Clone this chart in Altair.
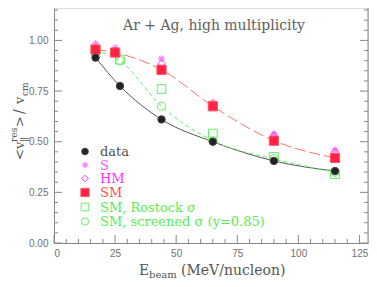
import altair as alt
import pandas as pd

# ---- data ----
E_data = [17, 27, 44, 65, 90, 115]
v_data = [0.915, 0.775, 0.61, 0.50, 0.405, 0.355]
E_S = [17, 25, 44, 65, 90, 115]
v_S = [0.985, 0.965, 0.91, 0.695, 0.54, 0.46]
E_HM = [17, 25, 44, 65, 90, 115]
v_HM = [0.96, 0.945, 0.885, 0.685, 0.53, 0.45]
E_SM = [17, 25, 44, 65, 90, 115]
v_SM = [0.955, 0.94, 0.855, 0.675, 0.505, 0.42]
E_ros = [17, 27, 44, 65, 90, 115]
v_ros = [0.945, 0.905, 0.76, 0.54, 0.425, 0.34]
E_scr = [17, 27, 44, 65, 90, 115]
v_scr = [0.95, 0.90, 0.675, 0.505, 0.415, 0.35]

x_major = [0, 25, 50, 75, 100, 125]
x_minor = [v for v in range(0, 130, 5) if v % 25 != 0]
y_major = [0.0, 0.25, 0.5, 0.75, 1.0]
y_minor = [round(i * 0.05, 2) for i in range(24) if i % 5 != 0]

legend_labels = ["data", "S", "HM", "SM", "SM, Rostock σ", "SM, screened σ (y=0.85)"]
title_text = "Ar + Ag, high multiplicity"

W, H = 314, 235
GRAY = "#888888"
SERIF = "DejaVu Serif"
SANS = "Liberation Sans"

xs = alt.Scale(domain=[0, 128.5], nice=False, zero=False)
ys = alt.Scale(domain=[0, 1.16], nice=False)
x_axis = alt.Axis(values=x_major, format="d", tickSize=0, domainColor=GRAY, labelColor="#707070",
                  labelFont=SANS, labelFontSize=10, labelPadding=5, title=None, grid=False)
y_axis = alt.Axis(values=y_major, format=".2f", tickSize=0, domainColor=GRAY, labelColor="#707070",
                  labelFont=SANS, labelFontSize=10, labelPadding=6, title=None, grid=False)
X = alt.X("E:Q", scale=xs, axis=x_axis)
Y = alt.Y("v:Q", scale=ys, axis=y_axis)


def df(E, v):
    return pd.DataFrame({"E": E, "v": v})


layers = []
# curves
layers.append(alt.Chart(df(E_data, v_data)).mark_line(color="#555555", strokeWidth=1, interpolate="monotone").encode(x=X, y=Y))
layers.append(alt.Chart(df(E_SM, v_SM)).mark_line(color="#ff7070", strokeWidth=1, strokeDash=[11, 4], interpolate="monotone").encode(x=X, y=Y))
layers.append(alt.Chart(df(E_scr, v_scr)).mark_line(color="#66ee66", strokeWidth=1, strokeDash=[4, 3], interpolate="monotone").encode(x=X, y=Y))

ASTER = "M-1,0L1,0M0,-1L0,1M-0.7,-0.7L0.7,0.7M-0.7,0.7L0.7,-0.7"
styles = {
    "data": dict(shape="circle", filled=True, fill="#222222", stroke="#444444", strokeWidth=1, size=55, opacity=1),
    "S": dict(shape=ASTER, filled=False, stroke="#ff80ff", strokeWidth=1.2, size=45, opacity=1),
    "HM": dict(shape="diamond", filled=False, stroke="#ff33ff", strokeWidth=1, size=55, opacity=1),
    "SM": dict(shape="square", filled=True, fill="#ff2244", stroke="#ff5566", strokeWidth=1, size=85, opacity=1),
    "ros": dict(shape="square", filled=False, stroke="#66ee66", strokeWidth=1, size=75, opacity=1),
    "scr": dict(shape="circle", filled=False, stroke="#66ee66", strokeWidth=1, size=65, opacity=1),
}
for key, E, v in [("S", E_S, v_S), ("HM", E_HM, v_HM), ("ros", E_ros, v_ros),
                  ("scr", E_scr, v_scr), ("SM", E_SM, v_SM), ("data", E_data, v_data)]:
    layers.append(alt.Chart(df(E, v)).mark_point(**styles[key]).encode(x=X, y=Y))

# inward ticks and right frame
tx_maj = pd.DataFrame({"E": x_major})
tx_min = pd.DataFrame({"E": x_minor})
ty_maj = pd.DataFrame({"v": y_major})
ty_min = pd.DataFrame({"v": y_minor + [1.05, 1.1, 1.15]}).drop_duplicates()
for d, L in [(tx_maj, 8), (tx_min, 4)]:
    layers.append(alt.Chart(d).mark_rule(color=GRAY, strokeWidth=1).encode(x=X, y=alt.value(H), y2=alt.value(H - L)))
for d, L in [(ty_maj, 8), (ty_min, 4)]:
    layers.append(alt.Chart(d).mark_rule(color=GRAY, strokeWidth=1).encode(y=Y, x=alt.value(0), x2=alt.value(L)))
    layers.append(alt.Chart(d).mark_rule(color=GRAY, strokeWidth=1).encode(y=Y, x=alt.value(W), x2=alt.value(W - L)))
layers.append(alt.Chart(pd.DataFrame({"a": [0]})).mark_rule(color=GRAY, strokeWidth=1).encode(
    x=alt.value(W), y=alt.value(0), y2=alt.value(H)))


def txt(s, x, y, size, color="#555555", angle=0, align="left", baseline="alphabetic", font=SERIF):
    kw = dict(align=align, baseline=baseline, font=font, fontSize=size, color=color)
    if angle:
        kw["angle"] = angle
    return alt.Chart(pd.DataFrame({"t": [s]})).mark_text(**kw).encode(
        x=alt.value(x), y=alt.value(y), text="t:N")


# plot title
layers.append(txt(title_text, 160, 22, 14, color="#606060", align="center"))

# legend
leg_keys = ["data", "S", "HM", "SM", "ros", "scr"]
leg_colors = ["#505050", "#ff55ff", "#ff33ff", "#ff5050", "#55ee55", "#55ee55"]
leg_y = [143.5, 157, 170.5, 184.5, 199, 213.5]
for k, lab, col, yy in zip(leg_keys, legend_labels, leg_colors, leg_y):
    st = dict(styles[k])
    st["size"] = st["size"] * 0.8
    layers.append(alt.Chart(pd.DataFrame({"a": [0]})).mark_point(**st).encode(x=alt.value(31), y=alt.value(yy)))
    layers.append(txt(lab, 46, yy + 0.5, 13, color=col, baseline="middle"))

# x-axis title  E_beam (MeV/nucleon)
layers.append(txt("E", 85, 267, 14))
layers.append(txt("beam", 95, 270, 10))
layers.append(txt("(MeV/nucleon)", 127, 267, 14))

# y-axis title  <v_||^res>/v_cm  (rotated)
layers.append(txt("<v", -30, 152, 13, angle=270))
layers.append(txt("‖", -27, 134, 10, angle=270))
layers.append(txt("res", -37, 134, 9, angle=270))
layers.append(txt(">", -30, 119, 13, angle=270))
layers.append(txt("/", -30, 106, 14, angle=270))
layers.append(txt("v", -30, 96, 13, angle=270))
layers.append(txt("cm", -26, 88, 9, angle=270))

chart = alt.layer(*layers).properties(
    width=W, height=H,
    autosize=alt.AutoSizeParams(type="none"),
    padding={"left": 46, "top": 0, "right": 1, "bottom": 36},
).configure_view(stroke=None).configure(background="white")

chart.save("out.html", embed_options={"renderer": "svg", "actions": False})
